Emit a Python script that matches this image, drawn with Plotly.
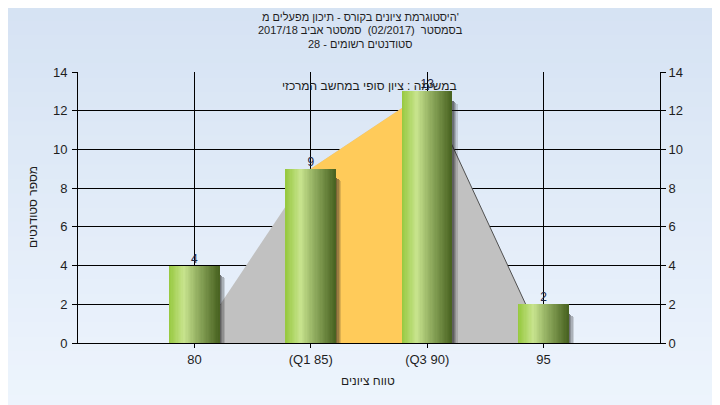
import plotly.graph_objects as go

# ---- data ----
categories = ["80", "(Q1 85)", "(Q3 90)", "95"]
students = [4, 9, 13, 2]
dist_values = [0, 9, 13, 0]          # outline of the background distribution area
q1_index, q3_index = 1, 2
title_lines = ["היסטוגרמת ציונים בקורס - תיכון מפעלים מ'",
               "בסמסטר  (02/2017)  סמסטר אביב 2017/18",
               "סטודנטים רשומים - 28"]
subtitle = "במשימה : ציון סופי במחשב המרכזי"
x_title = "טווח ציונים"
y_title = "מספר סטודנטים"
y_ticks = [0, 2, 4, 6, 8, 10, 12, 14]

xs = list(range(len(categories)))
FONT = "Liberation Sans, Arial, sans-serif"
TXT = "#1e1e1e"

fig = go.Figure()


def path_from(px, py):
    return "M " + " L ".join("%s,%s" % (a, b) for a, b in zip(px, py)) + " Z"


shapes = []

# gradient paper background
bands = 30
top_c = (213, 226, 243)
bot_c = (238, 245, 253)
ytop, ybot = 1 + 80 / 271, -80 / 271
for i in range(bands):
    f = i / (bands - 1)
    c = tuple(round(a + (b - a) * f) for a, b in zip(top_c, bot_c))
    y0 = ytop - (ytop - ybot) * i / bands
    y1 = ytop - (ytop - ybot) * (i + 1) / bands
    shapes.append(dict(type="rect", xref="paper", yref="paper", x0=-0.3, x1=1.3,
                       y0=y1 - 0.003, y1=y0, fillcolor="rgb(%d,%d,%d)" % c,
                       line=dict(width=0), layer="below"))

# distribution area (light gray), above grid but below bars
shapes.append(dict(type="path", xref="x", yref="y", path=path_from(xs, dist_values),
                   fillcolor="#c1c1c1", line=dict(width=0), layer="between"))
# interquartile area (yellow)
qx = [xs[q1_index], xs[q1_index], xs[q3_index], xs[q3_index]]
qy = [0, dist_values[q1_index], dist_values[q3_index], 0]
shapes.append(dict(type="path", xref="x", yref="y", path=path_from(qx, qy),
                   fillcolor="#ffcb5a", line=dict(width=0), layer="between"))
# dark edge on right side
shapes.append(dict(type="line", xref="x", yref="y", x0=xs[q3_index], y0=dist_values[q3_index],
                   x1=xs[-1], y1=dist_values[-1], line=dict(color="#505050", width=1),
                   layer="between"))

bw = 0.43
# soft bar shadow (a few strips of decreasing opacity)
shadow_alpha = [0.6, 0.45, 0.3, 0.15]
for k, a in enumerate(shadow_alpha):
    fig.add_trace(go.Bar(x=xs, y=[v - 0.25 - 0.05 * k for v in students],
                         base=[-0.25] * len(xs), width=0.012,
                         offset=bw / 2 + 0.012 * k,
                         marker=dict(color="rgba(30,30,30,%s)" % a, line=dict(width=0)),
                         hoverinfo="skip", showlegend=False))

# gradient bars via strips
stops = [(0.0, (150, 200, 62)), (0.3, (200, 228, 142)), (0.55, (150, 178, 100)),
         (1.0, (72, 98, 32))]


def grad(t):
    for (t0, c0), (t1, c1) in zip(stops[:-1], stops[1:]):
        if t0 <= t <= t1:
            f = (t - t0) / (t1 - t0)
            return "rgb(%d,%d,%d)" % tuple(round(a + (b - a) * f) for a, b in zip(c0, c1))
    return "rgb(%d,%d,%d)" % stops[-1][1]


N = 40
sw = bw / N
for i in range(N):
    fig.add_trace(go.Bar(x=xs, y=students, width=sw * 1.15, offset=-bw / 2 + i * sw,
                         marker=dict(color=grad((i + 0.5) / N), line=dict(width=0)),
                         hoverinfo="skip", showlegend=False))

# value labels
fig.add_trace(go.Scatter(x=xs, y=students, mode="text", text=[str(v) for v in students],
                         textposition="top center",
                         textfont=dict(family=FONT, size=12, color="#1c2440"),
                         hoverinfo="skip", showlegend=False))

# right axis dummy
fig.add_trace(go.Scatter(x=[xs[0]], y=[0], yaxis="y2", mode="markers",
                         marker=dict(opacity=0), hoverinfo="skip", showlegend=False))

annotations = []
for i, line in enumerate(title_lines):
    py = 17 + i * 13.5
    annotations.append(dict(text=line, xref="paper", yref="paper", x=(360 - 78) / 582,
                            y=(343 - py) / 271, showarrow=False, xanchor="center",
                            yanchor="middle", font=dict(family=FONT, size=11, color=TXT)))
annotations.append(dict(text=subtitle, xref="paper", yref="paper", x=0.5,
                        y=(343 - 86) / 271, showarrow=False, xanchor="center",
                        yanchor="middle", font=dict(family=FONT, size=12, color=TXT)))
annotations.append(dict(text=x_title, xref="paper", yref="paper", x=(368 - 78) / 582,
                        y=(343 - 381) / 271, showarrow=False, xanchor="center",
                        yanchor="middle", font=dict(family=FONT, size=12, color=TXT)))
annotations.append(dict(text=y_title, xref="paper", yref="paper", x=(33 - 78) / 582,
                        y=(343 - 207) / 271, showarrow=False, textangle=-90,
                        xanchor="center", yanchor="middle",
                        font=dict(family=FONT, size=12, color=TXT)))

axis_common = dict(range=[0, 14], tickvals=y_ticks, ticks="outside", ticklen=5,
                   tickcolor="black", showline=True, linecolor="black", linewidth=1,
                   tickfont=dict(family=FONT, size=13, color=TXT), zeroline=False,
                   fixedrange=True)

fig.update_layout(
    width=720, height=405,
    margin=dict(l=70, r=68, t=64, b=70),
    paper_bgcolor="#e3ecf8",
    plot_bgcolor="#b4b4b4",
    barmode="overlay",
    bargap=0,
    shapes=shapes,
    annotations=annotations,
    xaxis=dict(range=[-1, 4], tickvals=xs, ticktext=categories, ticks="outside",
               ticklen=4, tickcolor="black", showgrid=True, gridcolor="black",
               gridwidth=1, showline=True, linecolor="black", linewidth=1,
               tickfont=dict(family=FONT, size=13, color=TXT), zeroline=False,
               mirror=False),
    yaxis=dict(showgrid=True, gridcolor="black", gridwidth=1, ticklabelstandoff=2,
               **axis_common),
    yaxis2=dict(overlaying="y", side="right", showgrid=False, **axis_common),
    showlegend=False,
)

fig.write_html("out.html")
